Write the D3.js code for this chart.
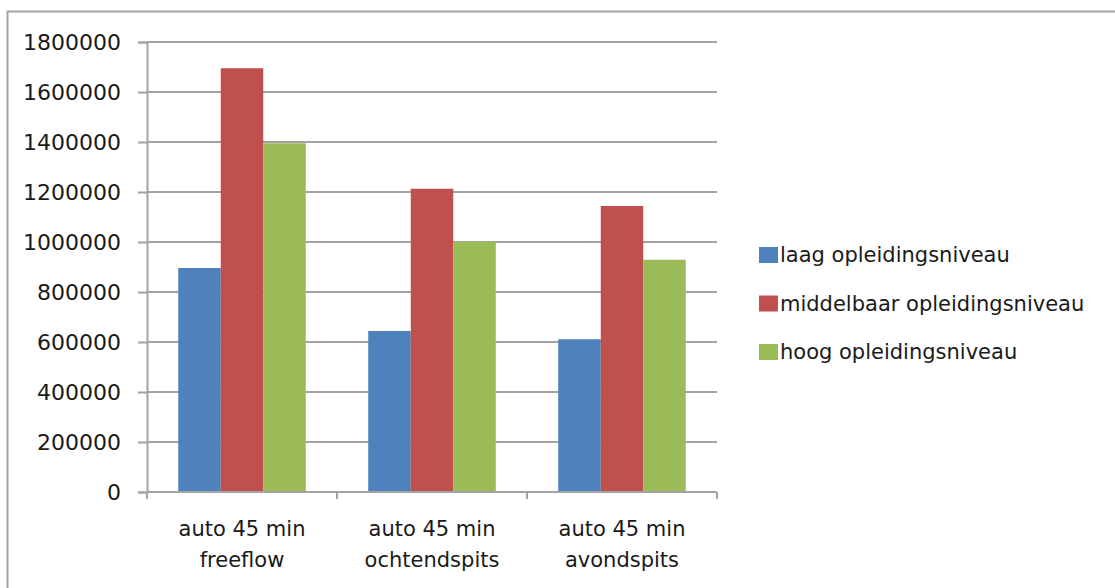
<!DOCTYPE html>
<html>
<head>
<meta charset="utf-8">
<script src="https://cdn.jsdelivr.net/npm/d3@7"></script>
<style>
  html, body { margin: 0; padding: 0; background: #fff; }
  svg { display: block; }
  text { font-family: "DejaVu Sans", sans-serif; fill: #1a1a1a; }
</style>
</head>
<body>
<svg id="chart" width="1115" height="588"></svg>
<script>
// Category labels (two lines each)
const categories = ["auto 45 min\nfreeflow", "auto 45 min\nochtendspits", "auto 45 min\navondspits"];
// Series names
const seriesNames = ["laag opleidingsniveau", "middelbaar opleidingsniveau", "hoog opleidingsniveau"];
// Values per series, in category order
const laag = [896000, 644000, 611000];
const middelbaar = [1695000, 1213000, 1144000];
const hoog = [1395000, 1001000, 929000];
const seriesValues = [laag, middelbaar, hoog];
const seriesColors = ["#4F81BD", "#C0504D", "#9BBB59"];
const yTicks = [0, 200000, 400000, 600000, 800000, 1000000, 1200000, 1400000, 1600000, 1800000];

const svg = d3.select("#chart");
const plot = { left: 147, right: 717, top: 42, bottom: 492 };
const lineColor = "#a3a3a3";

// Outer chart frame (only top and left edges fall inside the view)
svg.append("rect")
  .attr("x", 7.5).attr("y", 11.5)
  .attr("width", 1200).attr("height", 700)
  .attr("fill", "none").attr("stroke", lineColor).attr("stroke-width", 2);

const y = d3.scaleLinear().domain([0, 1800000]).range([plot.bottom, plot.top]);
const x0 = d3.scaleBand().domain(d3.range(categories.length)).range([plot.left, plot.right]).padding(0);
const x1 = d3.scaleBand().domain(d3.range(seriesNames.length)).range([0, x0.bandwidth()])
  .paddingInner(0).paddingOuter(0.735);

// Horizontal gridlines
svg.append("g").selectAll("line")
  .data(yTicks.filter(d => d > 0))
  .join("line")
  .attr("x1", plot.left).attr("x2", plot.right)
  .attr("y1", d => y(d)).attr("y2", d => y(d))
  .attr("stroke", lineColor).attr("stroke-width", 2);

// Bars
const groups = svg.append("g").selectAll("g")
  .data(categories.map((c, i) => i))
  .join("g")
  .attr("transform", i => `translate(${x0(i)},0)`);

groups.selectAll("rect")
  .data(i => seriesValues.map((vals, s) => ({ s, v: vals[i] })))
  .join("rect")
  .attr("x", d => x1(d.s))
  .attr("width", x1.bandwidth())
  .attr("y", d => y(d.v))
  .attr("height", d => y(0) - y(d.v))
  .attr("fill", d => seriesColors[d.s]);

// Y axis
const yAxis = svg.append("g")
  .attr("transform", `translate(${plot.left},0)`)
  .call(d3.axisLeft(y).tickValues(yTicks).tickFormat(d3.format("d")).tickSize(9).tickPadding(17));
yAxis.select(".domain").attr("stroke", lineColor).attr("stroke-width", 2);
yAxis.selectAll(".tick line").attr("stroke", lineColor).attr("stroke-width", 2);
yAxis.selectAll(".tick text")
  .attr("fill", "#1a1a1a").attr("font-size", 22).attr("font-family", "DejaVu Sans, sans-serif");

// X axis line and category separators
svg.append("line")
  .attr("x1", plot.left).attr("x2", plot.right)
  .attr("y1", plot.bottom).attr("y2", plot.bottom)
  .attr("stroke", lineColor).attr("stroke-width", 2);
svg.append("g").selectAll("line")
  .data(d3.range(categories.length + 1))
  .join("line")
  .attr("x1", i => plot.left + i * x0.step()).attr("x2", i => plot.left + i * x0.step())
  .attr("y1", plot.bottom).attr("y2", plot.bottom + 7)
  .attr("stroke", lineColor).attr("stroke-width", 2);

// Category labels
svg.append("g").selectAll("text")
  .data(categories)
  .join("text")
  .attr("text-anchor", "middle")
  .attr("font-size", 21)
  .attr("transform", (d, i) => `translate(${x0(i) + x0.bandwidth() / 2},536)`)
  .selectAll("tspan")
  .data(d => d.split("\n"))
  .join("tspan")
  .attr("x", 0)
  .attr("y", (d, j) => j * 31)
  .text(d => d);

// Legend
const legend = svg.append("g").attr("transform", "translate(759,255)");
const items = legend.selectAll("g")
  .data(seriesNames)
  .join("g")
  .attr("transform", (d, i) => `translate(0,${i * 48.5})`);
items.append("rect")
  .attr("x", 0).attr("y", -8)
  .attr("width", 19).attr("height", 16)
  .attr("fill", (d, i) => seriesColors[i]);
items.append("text")
  .attr("x", 21).attr("y", 7)
  .attr("font-size", 21)
  .text(d => d);
</script>
</body>
</html>
